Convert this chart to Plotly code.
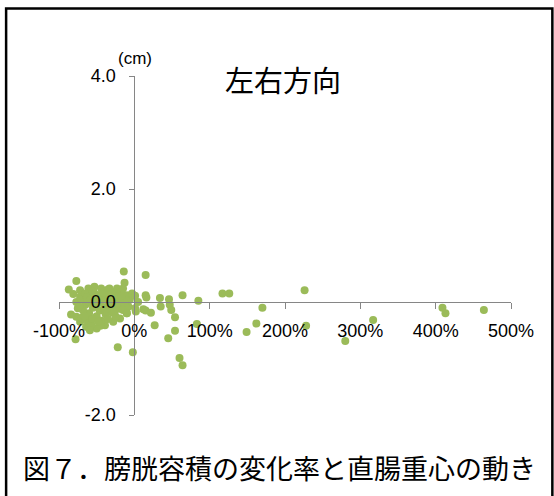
import plotly.graph_objects as go

# Bladder volume change rate (%) vs. rectal centroid shift, left-right (cm)
change_rate = [
    # dense cluster left of zero
    -81, -72, -61, -53, -44, -33, -23, -17, -10, -6, -8, -10, -19, -28, -39, -50, -64, -72, -77, -75, -77, -72,
    -70, -65, -65, -60, -60, -58, -55, -55, -52, -50, -50, -48, -46, -45, -44, -42, -40, -40, -38, -36, -35,
    -33, -32, -30, -28, -27, -25, -25, -22, -20, -18, -15, -68, -70, -62, -57, -45, -35, -12,
    -73, -66, -63, -56, -53, -48, -43, -37, -31, -26, -21, -17, -14, -58, -47, -30,
    # scattered points around the cluster
    -14, -77, -13, -15, -87, -84, -78, -59, -22, -2, -13, -10, -15, -10,
    # right of zero
    15, -3, 1, 15, 16, 5, 34, 46, 64, 85, 1, 2, 12, 15, 22, 35, 47, 49, 54, 27, 54, 45, 60, 64, 83,
    # large volume changes
    117, 126, 226, 170, 162, 149, 228, 280, 317, 409, 413, 464,
]
shift_cm = [
    0.14, 0.21, 0.24, 0.27, 0.24, 0.24, 0.24, 0.18, 0.12, 0.04, -0.08, -0.20, -0.29, -0.35, -0.41, -0.47, -0.44, -0.35, -0.26, -0.11, 0.00, 0.09,
    0.05, -0.05, 0.15, 0.00, -0.20, 0.10, -0.10, 0.18, 0.05, -0.25, -0.05, 0.12, -0.15, 0.00, -0.33, 0.08, -0.10, 0.18, -0.22, 0.02, -0.30,
    0.12, -0.08, -0.18, 0.05, 0.17, -0.05, -0.25, 0.10, -0.12, 0.02, -0.05, -0.15, -0.28, -0.33, -0.40, -0.42, 0.22, 0.05,
    -0.08, -0.25, 0.08, -0.30, 0.15, -0.35, 0.14, -0.12, 0.00, -0.15, -0.04, 0.10, -0.10, 0.04, 0.05, 0.15,
    0.54, 0.37, 0.34, 0.24, 0.22, -0.22, -0.66, -0.50, -0.80, -0.89, -0.02, -0.11, -0.14, -0.20,
    0.48, 0.15, 0.11, 0.12, 0.08, 0.00, 0.07, 0.05, 0.12, 0.02, -0.11, -0.17, -0.13, -0.15, -0.19, -0.08, -0.05, -0.14, -0.27, -0.41, -0.51, -0.64, -0.99, -1.12, -0.39,
    0.15, 0.15, 0.21, -0.10, -0.38, -0.53, -0.42, -0.69, -0.32, -0.10, -0.20, -0.14,
]

x_ticks = [-100, 0, 100, 200, 300, 400, 500]
x_tick_text = ["-100%", "0%", "100%", "200%", "300%", "400%", "500%"]
y_ticks = [-2, 0, 2, 4]
y_tick_text = ["-2.0", "0.0", "2.0", "4.0"]

title_text = "左右方向"
unit_text = "(cm)"
caption_text = "図７．膀胱容積の変化率と直腸重心の動き"

AXIS_GRAY = "#868686"
DOT_GREEN = "#9BBB59"

fig = go.Figure(
    go.Scatter(
        x=change_rate,
        y=shift_cm,
        mode="markers",
        marker=dict(color=DOT_GREEN, size=8, line=dict(width=0)),
        cliponaxis=False,
        hoverinfo="x+y",
    )
)

fig.update_layout(
    width=554,
    height=496,
    margin=dict(l=59, r=43, t=76, b=81),
    paper_bgcolor="white",
    plot_bgcolor="white",
    showlegend=False,
    font=dict(family="Liberation Sans, Arial, sans-serif", color="#000000"),
    xaxis=dict(
        range=[-100, 500],
        anchor="free",
        position=1 / 3,
        tickvals=x_ticks,
        ticktext=x_tick_text,
        showgrid=False,
        zeroline=False,
        showline=True,
        linecolor=AXIS_GRAY,
        linewidth=1,
        ticks="outside",
        ticklen=6,
        tickcolor=AXIS_GRAY,
        tickfont=dict(size=18),
        ticklabelstandoff=6,
    ),
    yaxis=dict(
        range=[-2, 4],
        anchor="free",
        position=1 / 6,
        tickvals=y_ticks,
        ticktext=y_tick_text,
        showgrid=False,
        zeroline=False,
        showline=True,
        linecolor=AXIS_GRAY,
        linewidth=1,
        ticks="outside",
        ticklen=5,
        tickcolor=AXIS_GRAY,
        tickfont=dict(size=18),
        ticklabelstandoff=10,
    ),
    annotations=[
        dict(text=unit_text, x=0.168, y=1.053, xref="paper", yref="paper",
             xanchor="center", yanchor="middle", showarrow=False, font=dict(size=17)),
        dict(text=title_text, x=0.496, y=0.991, xref="paper", yref="paper",
             xanchor="center", yanchor="middle", showarrow=False,
             font=dict(size=29, family="Noto Sans CJK JP")),
        dict(text=caption_text, x=-0.083, y=-0.1534, xref="paper", yref="paper",
             xanchor="left", yanchor="middle", showarrow=False,
             font=dict(size=27, family="Noto Sans CJK JP")),
    ],
    shapes=[
        dict(type="rect", xref="paper", yref="paper",
             x0=-0.117, x1=1.0915, y0=-0.26, y1=1.199,
             line=dict(color="black", width=2.5), fillcolor="rgba(0,0,0,0)", layer="below"),
    ],
)

fig.write_html("out.html")
